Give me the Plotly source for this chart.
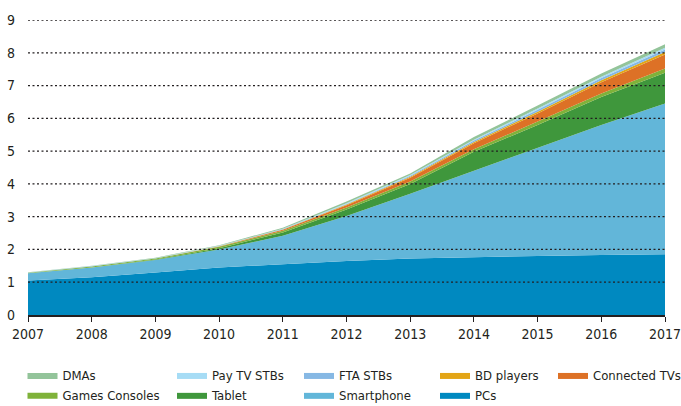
import plotly.graph_objects as go

years = [2007, 2008, 2009, 2010, 2011, 2012, 2013, 2014, 2015, 2016, 2017]

pcs            = [1.05, 1.15, 1.30, 1.45, 1.55, 1.65, 1.72, 1.77, 1.80, 1.83, 1.85]
smartphone     = [0.22, 0.30, 0.38, 0.55, 0.87, 1.37, 1.98, 2.63, 3.30, 3.97, 4.60]
tablet         = [0.00, 0.00, 0.01, 0.04, 0.10, 0.20, 0.30, 0.58, 0.70, 0.85, 0.94]
games_consoles = [0.02, 0.03, 0.03, 0.04, 0.05, 0.06, 0.07, 0.08, 0.10, 0.11, 0.13]
connected_tvs  = [0.00, 0.00, 0.00, 0.01, 0.03, 0.07, 0.12, 0.18, 0.25, 0.34, 0.43]
bd_players     = [0.00, 0.00, 0.00, 0.005, 0.01, 0.02, 0.03, 0.04, 0.05, 0.06, 0.07]
fta_stbs       = [0.00, 0.005, 0.005, 0.005, 0.01, 0.02, 0.03, 0.04, 0.06, 0.07, 0.08]
pay_tv_stbs    = [0.005, 0.01, 0.01, 0.01, 0.01, 0.02, 0.02, 0.03, 0.04, 0.04, 0.05]
dmas           = [0.01, 0.01, 0.015, 0.02, 0.03, 0.05, 0.05, 0.08, 0.09, 0.10, 0.11]

series_names = ["PCs", "Smartphone", "Tablet", "Games Consoles", "Connected TVs",
                "BD players", "FTA STBs", "Pay TV STBs", "DMAs"]
series_values = [pcs, smartphone, tablet, games_consoles, connected_tvs,
                 bd_players, fta_stbs, pay_tv_stbs, dmas]
series_colors = ["#0089c0", "#62b6d9", "#3f973c", "#7fb23a", "#dd7126",
                 "#e3a516", "#86b8e4", "#a6dcf5", "#93c49a"]

y_ticks = [0, 1, 2, 3, 4, 5, 6, 7, 8, 9]

legend_slot = {
    "DMAs": "legend", "Games Consoles": "legend",
    "Pay TV STBs": "legend2", "Tablet": "legend2",
    "FTA STBs": "legend3", "Smartphone": "legend3",
    "BD players": "legend4", "PCs": "legend4",
    "Connected TVs": "legend5",
}
legend_rank = {
    "DMAs": 1, "Pay TV STBs": 1, "FTA STBs": 1, "BD players": 1, "Connected TVs": 1,
    "Games Consoles": 2, "Tablet": 2, "Smartphone": 2, "PCs": 2,
}

FONT = "DejaVu Sans Condensed, sans-serif"
TXT = "#231f20"

fig = go.Figure()
for name, vals, col in zip(series_names, series_values, series_colors):
    fig.add_trace(go.Scatter(
        x=years, y=vals, name=name, mode="lines", stackgroup="one",
        line=dict(width=0, color=col), fillcolor=col,
        legend=legend_slot[name], legendrank=legend_rank[name],
        hoverinfo="skip",
    ))

W, H = 681, 406
L, R, T, B = 28, 16, 20, 91
pw = W - L - R
ph = H - T - B

def px_to_paper_x(px):
    return (px - L) / pw

def py_to_paper_y(py):
    return (H - B - py) / ph

legend_cols = [30.5, 180, 307, 443, 561]
legend_names = ["legend", "legend2", "legend3", "legend4", "legend5"]
legend_layout = {}
for nm, xpx in zip(legend_names, legend_cols):
    legend_layout[nm] = dict(
        x=px_to_paper_x(xpx - 8), y=py_to_paper_y(360), xanchor="left", yanchor="top",
        orientation="v", traceorder="normal", bgcolor="rgba(0,0,0,0)",
        font=dict(family=FONT, size=13, color=TXT), tracegroupgap=0,
        itemwidth=30,
    )

shapes = []
for t in y_ticks[1:]:
    shapes.append(dict(type="line", xref="paper", yref="y", x0=0, x1=1, y0=t, y1=t,
                       layer="above", line=dict(color=TXT, width=1.3, dash="2px,2.5px")))

fig.update_layout(
    width=W, height=H,
    margin=dict(l=L, r=R, t=T, b=B, pad=0, autoexpand=False),
    paper_bgcolor="white", plot_bgcolor="white",
    font=dict(family=FONT, size=14, color=TXT),
    showlegend=True,
    shapes=shapes,
    xaxis=dict(range=[2007, 2017], tickvals=years, ticktext=[str(y) for y in years],
               showgrid=False, zeroline=False, showline=True, linecolor="#231f20",
               linewidth=2, ticks="outside", ticklen=5, tickwidth=1, tickcolor=TXT,
               layer="above traces", automargin=False, ticklabeloverflow="allow",
               tickfont=dict(family=FONT, size=14, color=TXT)),
    yaxis=dict(range=[0, 9], tickvals=y_ticks, showgrid=False, zeroline=False,
               showline=False, ticks="", ticklabelstandoff=12, automargin=False,
               ticklabeloverflow="allow",
               tickfont=dict(family=FONT, size=14, color=TXT)),
    **legend_layout,
)

fig.write_html(
    "out.html",
    config={"displayModeBar": False},
    post_script="document.body.style.margin='0';document.body.style.overflow='hidden';",
)
